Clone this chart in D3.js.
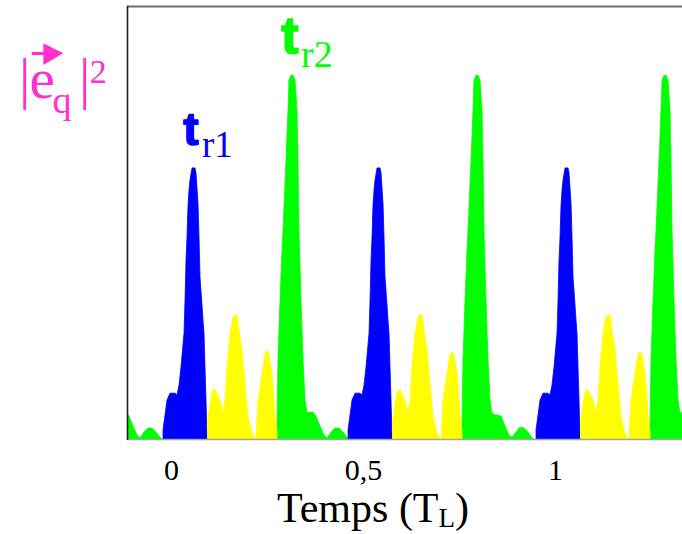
<!DOCTYPE html>
<html>
<head>
<meta charset="utf-8">
<script src="https://cdn.jsdelivr.net/npm/d3@7"></script>
<style>
  html, body { margin: 0; padding: 0; background: #ffffff; }
  svg { display: block; }
</style>
</head>
<body>
<svg id="chart" width="682" height="534"></svg>
<script>
// ---------- DATA (time in T_L, intensity relative to the tallest peak = 100) ----------
const tickValues = [0, 0.5, 1];
const tickLabels = ["0", "0,5", "1"];

const greenPulse0 = [[-0.1380,10.7],[-0.1328,7.1],[-0.1250,7.4],[-0.1172,7.4],[-0.1094,6.3],[-0.0990,3.6],[-0.0885,1.1],[-0.0807,0.3],[-0.0703,1.9],[-0.0599,3.0],[-0.0495,3.0],[-0.0391,1.9],[-0.0286,0.5],[-0.0234,0]];

const bluePulse1 = [[-0.0208,0],[-0.0208,2.5],[-0.0156,6.6],[-0.0104,10.7],[-0.0026,12.6],[0.0104,12.6],[0.0156,12.1],[0.0208,14.8],[0.0260,19.8],[0.0339,29.1],[0.0365,38.2],[0.0391,49.2],[0.0417,55.5],[0.0443,64.3],[0.0469,68.4],[0.0495,71.2],[0.0547,74.5],[0.0625,74.5],[0.0651,73.1],[0.0703,64.8],[0.0729,55.5],[0.0755,44.5],[0.0807,36.8],[0.0833,32.7],[0.0859,29.1],[0.0885,19.8],[0.0911,10.7],[0.0938,0.5],[0.0951,0]];

const yellowPulse1 = [[0.0951,0],[0.0951,5.2],[0.0990,8.0],[0.1068,12.9],[0.1120,14.0],[0.1172,12.9],[0.1276,10.7],[0.1354,7.1],[0.1406,10.7],[0.1458,19.8],[0.1536,29.1],[0.1615,33.5],[0.1667,34.1],[0.1719,34.1],[0.1771,29.9],[0.1849,24.5],[0.1927,15.4],[0.2005,6.0],[0.2109,1.6],[0.2161,0.5],[0.2214,0.5],[0.2266,10.7],[0.2370,18.1],[0.2448,23.6],[0.2500,24.5],[0.2552,23.1],[0.2630,18.1],[0.2682,10.7],[0.2734,3.3],[0.2760,2.5],[0.2760,0]];

const greenPulse1 = [[0.2760,0],[0.2760,3.3],[0.2786,21.7],[0.2839,38.2],[0.2891,51.9],[0.2917,57.4],[0.2995,76.6],[0.3047,90.4],[0.3073,98.6],[0.3125,100],[0.3177,100],[0.3229,98.6],[0.3281,90.4],[0.3307,76.6],[0.3333,57.4],[0.3385,38.2],[0.3438,21.7],[0.3490,10.7],[0.3542,7.1],[0.3620,7.4],[0.3698,7.4],[0.3776,6.3],[0.3880,3.6],[0.3984,1.1],[0.4063,0.3],[0.4167,1.9],[0.4271,3.0],[0.4375,3.0],[0.4479,1.9],[0.4583,0.5],[0.4635,0]];

const bluePulse2 = [[0.4610,0],[0.4610,2.5],[0.4662,6.6],[0.4714,10.7],[0.4792,12.6],[0.4922,12.6],[0.4974,12.1],[0.5026,14.8],[0.5078,19.8],[0.5157,29.1],[0.5183,38.2],[0.5209,49.2],[0.5235,55.5],[0.5261,64.3],[0.5287,68.4],[0.5313,71.2],[0.5365,74.5],[0.5443,74.5],[0.5469,73.1],[0.5521,64.8],[0.5547,55.5],[0.5573,44.5],[0.5625,36.8],[0.5651,32.7],[0.5677,29.1],[0.5703,19.8],[0.5729,10.7],[0.5756,0.5],[0.5769,0]];

const yellowPulse2 = [[0.5769,0],[0.5769,5.2],[0.5808,8.0],[0.5886,12.9],[0.5938,13.5],[0.5990,13.2],[0.6094,10.7],[0.6172,7.1],[0.6224,10.7],[0.6276,19.8],[0.6354,29.1],[0.6433,33.5],[0.6485,34.1],[0.6537,34.1],[0.6589,29.9],[0.6667,24.5],[0.6745,15.4],[0.6823,6.0],[0.6927,1.6],[0.6979,0.5],[0.7032,0.5],[0.7084,10.7],[0.7188,18.1],[0.7266,23.3],[0.7318,23.9],[0.7370,23.1],[0.7448,18.1],[0.7500,10.7],[0.7552,3.3],[0.7578,2.5],[0.7578,0]];

const greenPulse2 = [[0.7578,0],[0.7578,3.3],[0.7604,21.7],[0.7657,38.2],[0.7709,51.9],[0.7735,57.4],[0.7813,76.6],[0.7865,90.4],[0.7891,98.6],[0.7943,100],[0.7995,100],[0.8047,98.6],[0.8099,90.4],[0.8125,76.6],[0.8151,57.4],[0.8203,38.2],[0.8256,21.7],[0.8308,10.7],[0.8360,7.1],[0.8438,6.6],[0.8516,6.6],[0.8594,6.3],[0.8698,3.6],[0.8802,1.1],[0.8881,0.5],[0.8985,1.9],[0.9089,3.3],[0.9193,3.0],[0.9297,1.9],[0.9401,0.3],[0.9453,0]];

const bluePulse3 = [[0.9506,0],[0.9506,2.5],[0.9558,6.6],[0.9610,10.7],[0.9688,12.6],[0.9818,12.6],[0.9870,12.1],[0.9922,14.8],[0.9974,19.8],[1.0053,29.1],[1.0079,38.2],[1.0105,49.2],[1.0131,55.5],[1.0157,64.3],[1.0183,68.4],[1.0209,71.2],[1.0261,74.5],[1.0339,74.5],[1.0365,73.1],[1.0417,64.8],[1.0443,55.5],[1.0469,44.5],[1.0521,36.8],[1.0547,32.7],[1.0573,29.1],[1.0599,19.8],[1.0625,10.7],[1.0652,0.5],[1.0665,0]];

const yellowPulse3 = [[1.0665,0],[1.0665,5.2],[1.0704,8.0],[1.0782,12.9],[1.0834,13.5],[1.0886,12.9],[1.0990,10.7],[1.1068,7.1],[1.1120,10.7],[1.1172,19.8],[1.1250,29.1],[1.1329,33.5],[1.1381,34.1],[1.1433,34.1],[1.1485,29.9],[1.1563,24.5],[1.1641,15.4],[1.1719,6.0],[1.1823,1.6],[1.1875,0.5],[1.1928,0.5],[1.1980,10.7],[1.2084,18.1],[1.2162,23.3],[1.2214,23.9],[1.2266,23.1],[1.2344,18.1],[1.2396,10.7],[1.2448,3.3],[1.2474,2.5],[1.2474,0]];

const greenPulse3 = [[1.2474,0],[1.2474,3.3],[1.2500,21.7],[1.2553,38.2],[1.2605,51.9],[1.2631,57.4],[1.2709,76.6],[1.2761,90.4],[1.2787,98.6],[1.2839,100],[1.2891,100],[1.2943,98.6],[1.2995,90.4],[1.3021,76.6],[1.3047,57.4],[1.3099,38.2],[1.3152,21.7],[1.3204,10.7],[1.3256,7.1],[1.3334,7.4],[1.3412,7.4],[1.3490,6.3]];

const blueSeries = [bluePulse1, bluePulse2, bluePulse3];
const yellowSeries = [yellowPulse1, yellowPulse2, yellowPulse3];
const greenSeries = [greenPulse0, greenPulse1, greenPulse2, greenPulse3];

// ---------- CHART ----------
(function () {
const svg = d3.select("#chart");
const pL = 127, pR = 682, pT = 6, pB = 439;

const x = d3.scaleLinear().domain([-0.1146, 1.3307]).range([pL, pR]);
const y = d3.scaleLinear().domain([0, 119]).range([pB, pT]);

svg.append("defs").append("clipPath").attr("id", "plotClip")
  .append("rect").attr("x", pL).attr("y", pT).attr("width", pR - pL).attr("height", pB - pT + 1);

const area = d3.area()
  .x(d => x(d[0]))
  .y0(y(0))
  .y1(d => y(d[1]))
  .curve(d3.curveLinear);

const plot = svg.append("g").attr("clip-path", "url(#plotClip)");

const groups = [
  { series: greenSeries, color: "#00ff00" },
  { series: blueSeries, color: "#0000ff" },
  { series: yellowSeries, color: "#ffff00" }
];
groups.forEach(gp => {
  plot.selectAll(null).data(gp.series).enter()
    .append("path")
    .attr("d", area)
    .attr("fill", gp.color)
    .attr("stroke", gp.color)
    .attr("stroke-width", 0.8);
});

// frame: top line, baseline, left axis line
svg.append("line").attr("x1", pL).attr("x2", pR).attr("y1", pT + 0.5).attr("y2", pT + 0.5)
  .attr("stroke", "#6e6e6e").attr("stroke-width", 2);
svg.append("line").attr("x1", pL).attr("x2", pR).attr("y1", pB + 0.5).attr("y2", pB + 0.5)
  .attr("stroke", "#a5a5a5").attr("stroke-width", 1.5);
svg.append("line").attr("x1", pL + 0.5).attr("x2", pL + 0.5).attr("y1", pT).attr("y2", pB + 1)
  .attr("stroke", "#1e1e1e").attr("stroke-width", 1.6);

// x axis (labels only)
const xAxis = d3.axisBottom(x)
  .tickValues(tickValues)
  .tickFormat((d, i) => tickLabels[i])
  .tickSize(0)
  .tickPadding(20);
const ax = svg.append("g").attr("transform", `translate(0,${pB})`).call(xAxis);
ax.select(".domain").remove();
ax.attr("font-family", null).attr("font-size", null);
ax.selectAll("text")
  .attr("font-family", "'Liberation Serif', 'Times New Roman', serif")
  .attr("font-size", 30)
  .attr("fill", "#000");

// x axis title
const xt = svg.append("text")
  .attr("x", 277).attr("y", 522)
  .attr("font-family", "'Liberation Serif', 'Times New Roman', serif")
  .attr("font-size", 42)
  .attr("fill", "#000");
xt.append("tspan").text("Temps (T");
xt.append("tspan").attr("font-size", 27).attr("dy", 5).text("L");
xt.append("tspan").attr("dy", -5).text(")");

// y label |e_q|^2 with vector arrow
const magenta = "#ff30d0";
const yl = svg.append("text")
  .attr("font-family", "'Liberation Serif', 'Times New Roman', serif")
  .attr("fill", magenta);
yl.append("tspan").attr("x", 19).attr("y", 98).attr("font-size", 57).text("|");
yl.append("tspan").attr("x", 29.6).attr("y", 98).attr("font-size", 57).text("e");
yl.append("tspan").attr("x", 52.5).attr("y", 112.5).attr("font-size", 38).text("q");
yl.append("tspan").attr("x", 79).attr("y", 98).attr("font-size", 57).text("|");
yl.append("tspan").attr("x", 89.7).attr("y", 83).attr("font-size", 34).text("2");
svg.append("line").attr("x1", 31.7).attr("x2", 45).attr("y1", 53.5).attr("y2", 53.5)
  .attr("stroke", magenta).attr("stroke-width", 3);
svg.append("path").attr("d", "M43.3,43.3 L43.3,65 L63.3,53.3 Z").attr("fill", magenta);

// peak annotations
function annotate(tx, ty, tSize, sub, sx, sy, sSize, color) {
  const t = svg.append("text").attr("fill", color);
  t.append("tspan")
    .attr("x", tx).attr("y", ty)
    .attr("text-anchor", "middle")
    .attr("font-family", "'Liberation Sans', Arial, sans-serif")
    .attr("font-weight", "bold")
    .attr("font-size", tSize)
    .attr("stroke", color).attr("stroke-width", 1.6).attr("stroke-linejoin", "round")
    .text("t");
  t.append("tspan")
    .attr("x", sx).attr("y", sy)
    .attr("font-family", "'Liberation Serif', 'Times New Roman', serif")
    .attr("font-size", sSize)
    .text(sub);
}
annotate(191, 145, 46, "r1", 202, 156.7, 37, "#0000ff");
annotate(290, 53, 52, "r2", 301, 66.7, 38, "#00ff00");
})();
</script>
</body>
</html>
